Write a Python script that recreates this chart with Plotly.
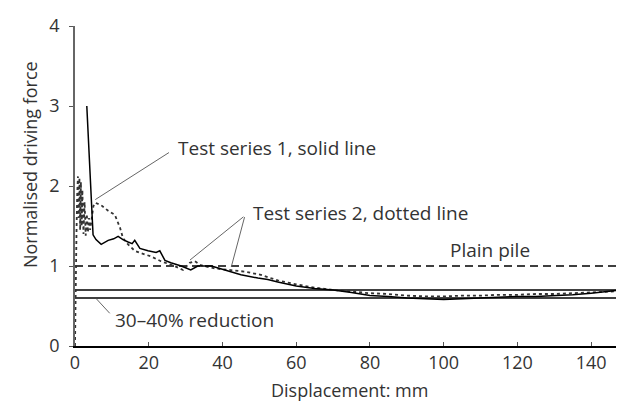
import plotly.graph_objects as go

# Test series 1 (solid line)
s1_x = [3.2, 4.9, 5.7, 7.1, 9.0, 10.5, 11.7, 13.0, 14.4, 15.5, 16.2, 17.6, 19.8, 22.0, 23.0, 24.4,
        26.0, 28.8, 31.4, 33.3, 37.0, 40.7, 45.0, 49.6, 52.3, 55, 60, 65, 70, 75, 80, 85, 90, 95,
        100, 105, 110, 115, 120, 125, 130, 135, 140, 145, 148, 149, 150]
s1_y = [3.0, 1.39, 1.33, 1.27, 1.32, 1.34, 1.37, 1.33, 1.30, 1.28, 1.32, 1.22, 1.19, 1.17, 1.19, 1.07,
        1.04, 1.00, 0.95, 1.00, 1.00, 0.95, 0.89, 0.85, 0.83, 0.80, 0.75, 0.72, 0.70, 0.67, 0.63, 0.62,
        0.60, 0.59, 0.58, 0.59, 0.60, 0.61, 0.62, 0.62, 0.63, 0.64, 0.66, 0.68, 0.70, 0.76, 0.74]

# Test series 2 (dotted line)
s2_x = [0, 0.1, 0.2, 0.4, 0.6, 0.8, 1.0, 1.2, 1.4, 1.6, 1.8, 2.0, 2.3, 2.6, 2.9, 3.2, 3.5, 3.8, 4.1,
        4.5, 5.0, 5.5, 7.1, 9.0, 10.8, 12.2, 13.0, 14.4, 16.2, 17.9, 20.6, 23.3, 27.0, 29.3, 31.1, 32.5,
        34.1, 37.9, 41.5, 46.0, 50.4, 55, 60, 65, 70, 75, 80, 85, 90, 95, 100, 105, 110, 115, 120, 125,
        130, 135, 140, 145, 150]
s2_y = [0, 0.5, 1.0, 1.4, 1.9, 2.12, 1.6, 2.1, 1.45, 2.05, 1.5, 1.95, 1.4, 1.8, 1.38, 1.65, 1.42, 1.6,
        1.45, 1.6, 1.75, 1.79, 1.76, 1.69, 1.64, 1.48, 1.35, 1.27, 1.19, 1.16, 1.12, 1.06, 1.00, 0.95,
        1.04, 1.06, 1.01, 0.97, 0.95, 0.93, 0.89, 0.82, 0.77, 0.73, 0.70, 0.68, 0.66, 0.65, 0.63, 0.62,
        0.62, 0.63, 0.63, 0.64, 0.64, 0.65, 0.65, 0.66, 0.67, 0.68, 0.69]

plain_pile = 1.0
reduction_levels = [0.7, 0.6]
x_range = [0, 150]

# (text, text x, text y, leader start x, leader start y, leader end x, leader end y)
labels = [
    ("Test series 1, solid line", 27.4, 2.48, 25.9, 2.43, 5.5, 1.83),
    ("Test series 2, dotted line", 47.7, 1.66, 46.1, 1.63, 31.2, 1.075),
    ("", 47.7, 1.66, 46.1, 1.63, 42.4, 0.99),
    ("30\u201340% reduction", 10.4, 0.325, 9.8, 0.39, 5.8, 0.59),
    ("Plain pile", 112.5, 1.2, None, None, None, None),
]

FONT = "Open Sans"
ink = "#333333"

fig = go.Figure()
fig.add_trace(go.Scatter(x=x_range, y=[plain_pile] * 2, mode="lines",
                         line=dict(color="black", width=1.5, dash="8px,5px")))
for lv in reduction_levels:
    fig.add_trace(go.Scatter(x=x_range, y=[lv] * 2, mode="lines",
                             line=dict(color="black", width=1.5)))
fig.add_trace(go.Scatter(x=s2_x, y=s2_y, mode="lines",
                         line=dict(color="#333333", width=1.8, dash="dot")))
fig.add_trace(go.Scatter(x=s1_x, y=s1_y, mode="lines",
                         line=dict(color="black", width=1.5)))

for text, tx, ty, sx, sy, ex, ey in labels:
    if sx is not None:
        fig.add_annotation(x=ex, y=ey, ax=sx, ay=sy, axref="x", ayref="y",
                           text="", showarrow=True, arrowhead=0, arrowwidth=1,
                           arrowcolor="#666666", standoff=0, startstandoff=0)
    if text:
        fig.add_annotation(x=tx, y=ty, text=text, showarrow=False,
                           xanchor="center" if sx is None else "left",
                           font=dict(family=FONT, size=19, color=ink))

# axis titles
fig.add_annotation(xref="paper", yref="paper", x=0.496, y=-0.137, text="Displacement: mm",
                   showarrow=False, yanchor="middle", font=dict(family=FONT, size=18, color=ink))
fig.add_annotation(xref="paper", yref="paper", x=-0.081, y=0.566, text="Normalised driving force",
                   textangle=-90, showarrow=False, xanchor="center", yanchor="middle",
                   font=dict(family=FONT, size=18, color=ink))

fig.update_layout(
    width=624, height=401,
    margin=dict(l=67, r=4, t=18, b=63),
    plot_bgcolor="white", paper_bgcolor="white",
    showlegend=False,
    font=dict(family=FONT, size=18, color=ink),
)
fig.update_xaxes(range=x_range, dtick=20, showgrid=False, zeroline=False,
                 showline=True, linecolor="black", linewidth=1.5,
                 ticks="inside", ticklen=4, tickcolor="#555555", ticklabelstandoff=0,
                 tickfont=dict(size=18))
fig.update_yaxes(range=[0, 4], dtick=1, showgrid=False, zeroline=False,
                 showline=True, linecolor="#666666", linewidth=1.5,
                 ticks="outside", ticklen=4, tickcolor="#555555", ticklabelstandoff=6,
                 tickfont=dict(size=18))

fig.write_html("out.html")
